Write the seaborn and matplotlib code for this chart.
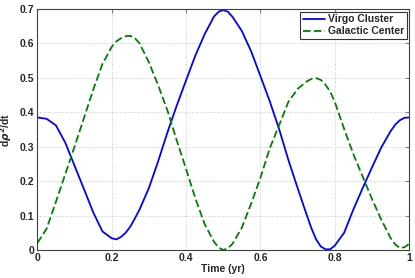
import matplotlib
matplotlib.use("Agg")
import matplotlib.pyplot as plt
import seaborn as sns

# values (extra readings near the turning points)
time = [0.000, 0.025, 0.050, 0.075, 0.100, 0.125, 0.150, 0.175, 0.200, 0.2125,
        0.225, 0.2375, 0.250, 0.2625, 0.275, 0.300, 0.325, 0.350, 0.375, 0.400,
        0.425, 0.450, 0.475, 0.4875, 0.500, 0.5125, 0.525, 0.550, 0.575, 0.600,
        0.625, 0.650, 0.675, 0.700, 0.725, 0.7375, 0.750, 0.7625, 0.775, 0.7875,
        0.800, 0.825, 0.850, 0.875, 0.900, 0.925, 0.950, 0.9625, 0.975, 0.9875,
        1.000]
virgo = [0.385, 0.381, 0.362, 0.312, 0.245, 0.178, 0.110, 0.054, 0.034, 0.031,
         0.038, 0.050, 0.068, 0.092, 0.118, 0.180, 0.258, 0.342, 0.420, 0.493,
         0.565, 0.627, 0.678, 0.692, 0.697, 0.692, 0.677, 0.636, 0.577, 0.505,
         0.432, 0.352, 0.262, 0.180, 0.100, 0.062, 0.030, 0.010, 0.002, 0.002,
         0.013, 0.050, 0.118, 0.180, 0.240, 0.298, 0.345, 0.364, 0.377, 0.384,
         0.385]
galactic = [0.020, 0.062, 0.140, 0.220, 0.300, 0.382, 0.465, 0.540, 0.590, 0.606,
            0.615, 0.621, 0.622, 0.615, 0.600, 0.545, 0.478, 0.405, 0.318, 0.235,
            0.150, 0.075, 0.024, 0.007, 0.000, 0.005, 0.018, 0.065, 0.135, 0.210,
            0.295, 0.362, 0.430, 0.468, 0.490, 0.497, 0.499, 0.494, 0.480, 0.460,
            0.430, 0.352, 0.278, 0.213, 0.148, 0.088, 0.035, 0.016, 0.006, 0.008,
            0.018]

xticks = [0, 0.2, 0.4, 0.6, 0.8, 1]
xtick_labels = ["0", "0.2", "0.4", "0.6", "0.8", "1"]
yticks = [0, 0.1, 0.2, 0.3, 0.4, 0.5, 0.6, 0.7]
ytick_labels = ["0", "0.1", "0.2", "0.3", "0.4", "0.5", "0.6", "0.7"]

sns.set_style("white")
plt.rcParams["font.family"] = ["Liberation Sans", "DejaVu Sans"]
plt.rcParams["font.weight"] = "bold"

fig = plt.figure(figsize=(4.15, 2.78), dpi=100)
ax = fig.add_axes([0.090, 0.1007, 0.896, 0.8669])

sns.lineplot(x=time, y=virgo, color="#0000ff", linewidth=1.3,
             label="Virgo Cluster", ax=ax)
sns.lineplot(x=time, y=galactic, color="#008000", linewidth=1.3,
             label="Galactic Center", ax=ax)
ax.lines[1].set_dashes((4.2, 1.8))

ax.set_xlim(0, 1)
ax.set_ylim(0, 0.7)
ax.set_xticks(xticks)
ax.set_xticklabels(xtick_labels)
ax.set_yticks(yticks)
ax.set_yticklabels(ytick_labels)
ax.tick_params(direction="in", length=3, width=0.8, color="#808080",
               top=True, right=True, labelsize=7.5, pad=2)
for lab in ax.get_xticklabels() + ax.get_yticklabels():
    lab.set_fontweight("bold")

ax.grid(True, linestyle=":", color="#c8c8c8", linewidth=0.7)
for s in ax.spines.values():
    s.set_color("#404040")
    s.set_linewidth(0.8)

ax.set_xlabel("Time (yr)", fontsize=7.5, fontweight="bold", labelpad=1)
ax.set_ylabel(r"d$\rho^2$/dt", fontsize=7.5, fontweight="bold", labelpad=4)

leg = ax.legend(loc="upper right", fontsize=7.5, frameon=True, fancybox=False,
                borderaxespad=0.25, borderpad=0.25, labelspacing=0.2,
                handlelength=2.1, handletextpad=0.3)
leg.get_frame().set_edgecolor("black")
leg.get_frame().set_linewidth(0.8)
leg.get_lines()[1].set_dashes((4.2, 1.8))
for t in leg.get_texts():
    t.set_fontweight("bold")

fig.savefig("out.png", dpi=100)
